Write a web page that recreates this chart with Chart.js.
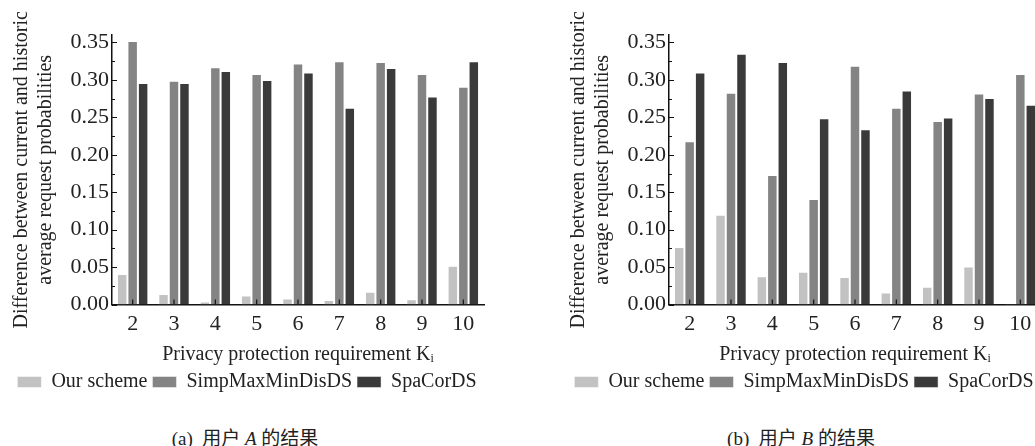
<!DOCTYPE html>
<html>
<head>
<meta charset="utf-8">
<script src="https://cdn.jsdelivr.net/npm/chart.js@4.4.0/dist/chart.umd.min.js"></script>
<style>
  body { margin:0; background:#fff; width:1035px; height:446px; overflow:hidden; position:relative; }
  .panel { position:absolute; top:0; width:505px; height:406px; }
  #pa { left:0; }
  #pb { left:557px; }
  .cap { position:absolute; top:423px; font-family:"Liberation Serif","Noto Sans CJK SC",serif; font-size:19px; color:#222; white-space:nowrap; transform:translateX(-50%); }
  .cap i { font-style:italic; }
</style>
</head>
<body>
<div class="panel" id="pa"><canvas id="chartA" width="505" height="406"></canvas></div>
<div class="panel" id="pb"><canvas id="chartB" width="505" height="406"></canvas></div>
<div class="cap" style="left:245px">(a)&nbsp;&nbsp;用户 <i>A</i> 的结果</div>
<div class="cap" style="left:801px">(b)&nbsp;&nbsp;用户 <i>B</i> 的结果</div>

<script>
// privacy requirement K_i
const kLabels = ['2', '3', '4', '5', '6', '7', '8', '9', '10'];
const seriesNames = ['Our scheme', 'SimpMaxMinDisDS', 'SpaCorDS'];

// user A
const oursA = [0.041, 0.014, 0.004, 0.012, 0.008, 0.006, 0.017, 0.007, 0.052];
const simpA = [0.352, 0.299, 0.317, 0.308, 0.322, 0.325, 0.324, 0.308, 0.291];
const spaA  = [0.296, 0.296, 0.312, 0.300, 0.310, 0.263, 0.316, 0.278, 0.325];

// user B
const oursB = [0.077, 0.120, 0.038, 0.044, 0.037, 0.016, 0.024, 0.051, 0.001];
const simpB = [0.218, 0.283, 0.173, 0.141, 0.319, 0.263, 0.245, 0.282, 0.308];
const spaB  = [0.310, 0.335, 0.324, 0.249, 0.234, 0.286, 0.250, 0.276, 0.267];

const yTicks = [0, 0.05, 0.10, 0.15, 0.20, 0.25, 0.30, 0.35];
const colors = ['#c2c2c2', '#848484', '#3a3a3a'];

Chart.defaults.font.family = '"Liberation Serif", "Times New Roman", serif';
Chart.defaults.color = '#222';

// inward tick marks (major + minor on y, centre ticks on x)
const innerTicks = {
  id: 'innerTicks',
  afterDatasetsDraw(chart) {
    const {ctx, scales: {x, y}} = chart;
    ctx.save();
    ctx.strokeStyle = '#111';
    ctx.lineWidth = 1.2;
    ctx.beginPath();
    for (let i = 0; i < yTicks.length; i++) {
      const py = Math.round(y.getPixelForValue(yTicks[i])) + 0.5;
      ctx.moveTo(y.right, py); ctx.lineTo(y.right + 5, py);
      if (i < yTicks.length - 1) {
        const pm = Math.round(y.getPixelForValue(yTicks[i] + 0.025)) + 0.5;
        ctx.moveTo(y.right, pm); ctx.lineTo(y.right + 3, pm);
      }
    }
    for (let i = 0; i < kLabels.length; i++) {
      const px = x.getPixelForValue(i);
      ctx.moveTo(px, x.top); ctx.lineTo(px, x.top - 5);
    }
    ctx.stroke();
    ctx.restore();
  }
};

function makeChart(id, ours, simp, spa) {
  const data = [ours, simp, spa];
  return new Chart(document.getElementById(id), {
    type: 'bar',
    plugins: [innerTicks],
    data: {
      labels: kLabels,
      datasets: seriesNames.map((name, i) => ({
        label: name,
        data: data[i],
        backgroundColor: colors[i],
        borderColor: 'rgba(255,255,255,0.45)',
        borderWidth: 1,
        categoryPercentage: 0.76,
        barPercentage: 1.0
      }))
    },
    options: {
      responsive: false,
      animation: false,
      layout: { padding: { top: 35, right: 21, left: 10, bottom: 4 } },
      plugins: {
        tooltip: { enabled: false },
        legend: {
          position: 'bottom',
          labels: {
            boxWidth: 24,
            boxHeight: 11,
            padding: 5,
            font: { size: 20 },
            color: '#222'
          }
        }
      },
      scales: {
        x: {
          offset: true,
          grid: { display: false, drawTicks: false },
          border: { color: '#111', width: 1.5 },
          ticks: { font: { size: 22 }, color: '#222', padding: 6 },
          title: {
            display: true,
            text: 'Privacy protection requirement Kᵢ',
            font: { size: 20 },
            color: '#222',
            padding: { top: 0, bottom: 0 }
          }
        },
        y: {
          min: 0,
          max: 0.36,
          afterBuildTicks: s => { s.ticks = yTicks.map(v => ({ value: v })); },
          afterFit: s => { s.width = 102; },
          grid: { display: false, drawTicks: false },
          border: { color: '#111', width: 1.5 },
          ticks: {
            font: { size: 22 },
            color: '#222',
            padding: 3,
            callback: v => v.toFixed(2)
          },
          title: {
            display: true,
            text: ['Difference between current and historic', 'average request probabilities'],
            font: { size: 20, lineHeight: 1.2 },
            color: '#222',
            padding: { top: 0, bottom: 0 }
          }
        }
      }
    }
  });
}

makeChart('chartA', oursA, simpA, spaA);
makeChart('chartB', oursB, simpB, spaB);
</script>
</body>
</html>
